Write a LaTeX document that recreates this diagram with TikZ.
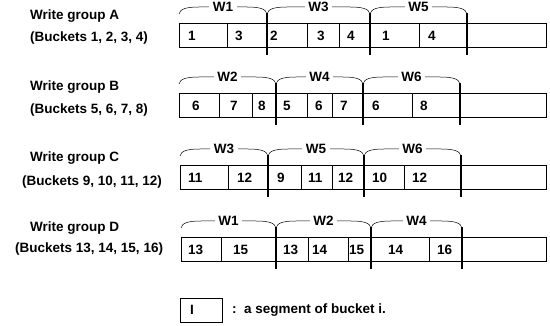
\documentclass[tikz,border=0pt]{standalone}
\usepackage{fontspec}
\setmainfont{Liberation Sans}
\newcommand\myfs{\fontsize{13.5}{14}\selectfont\bfseries}
\tikzset{
  segline/.style={line width=0.6pt},
  wbar/.style={line width=2pt},
  bracel/.style={line width=0.5pt},
  num/.style={anchor=west, font=\myfs, inner sep=0pt},
  wlab/.style={font=\myfs, fill=white, inner xsep=3.5pt, inner ysep=1pt},
  lab/.style={anchor=west, font=\myfs, inner sep=0pt}
}
% #1 top, #2 left, #3 thin dividers, #4 thick bars, #5 numbers x/text, #6 braces x1/x2/label
\newcommand\wrow[6]{%
  \draw[segline] (#2,#1) rectangle (546,{#1+24});
  \foreach \d in {#3} {\draw[segline] (\d,#1) -- (\d,{#1+24});}
  \foreach \d in {#4} {\draw[wbar] (\d,{#1-10}) -- (\d,{#1+32});}
  \foreach \p/\t in {#5} {\node[num] at (\p,{#1+13}) {\t};}
  \foreach \a/\b/\t in {#6} {
    \draw[bracel] (\a,{#1-9}) .. controls (\a+1,{#1-14}) and (\a+7,{#1-16}) .. (\a+20,{#1-16})
      -- (\b-20,{#1-16}) .. controls (\b-7,{#1-16}) and (\b-1,{#1-14}) .. (\b,{#1-9});
    \node[wlab] at ({(\a+\b)/2},{#1-16}) {\t};
  }
}
\begin{document}
\begin{tikzpicture}[x=1pt,y=-1pt]
\useasboundingbox (0,0) rectangle (550,326);
% labels
\node[lab] (gA) at (30,16) {Write group A};
\node[lab] (bA) at (30,38) {(Buckets 1, 2, 3, 4)};
\node[lab] (gB) at (30,87) {Write group B};
\node[lab] (bB) at (30,110) {(Buckets 5, 6, 7, 8)};
\node[lab] (gC) at (30,158) {Write group C};
\node[lab] (bC) at (22,182) {(Buckets 9, 10, 11, 12)};
\node[lab] (gD) at (30,228) {Write group D};
\node[lab] (bD) at (15,249) {(Buckets 13, 14, 15, 16)};
% rows
\wrow{23}{179}{227,307,339,419}{267,370,467}
  {188/1,235/3,270/2,317/3,347/4,382/1,428/4}
  {179/267/W1,267/370/W3,370/467/W5}
\wrow{93}{179}{219,252,307,332,412}{276,363,460}
  {192/6,230/7,258/8,283/5,315/6,340/7,372/6,420/8}
  {179/276/W2,276/363/W4,363/460/W6}
\wrow{165}{180}{228,301,332,404}{268,364,461}
  {188/11,237/12,277/9,308/11,338/12,372/10,412/12}
  {180/268/W3,268/364/W5,364/461/W6}
\wrow{237}{181}{221,308,348,429}{276,371,462}
  {188/13,233/15,283/13,312/14,349/15,388/14,437/16}
  {181/276/W1,276/371/W2,371/462/W4}
% legend
\draw[segline] (180,298) rectangle (222,322);
\node[num] (legI) at (190,310) {I};
\node[lab] (legT) at (232,310) {:\ \ a segment of bucket i.};
\end{tikzpicture}
\end{document}
